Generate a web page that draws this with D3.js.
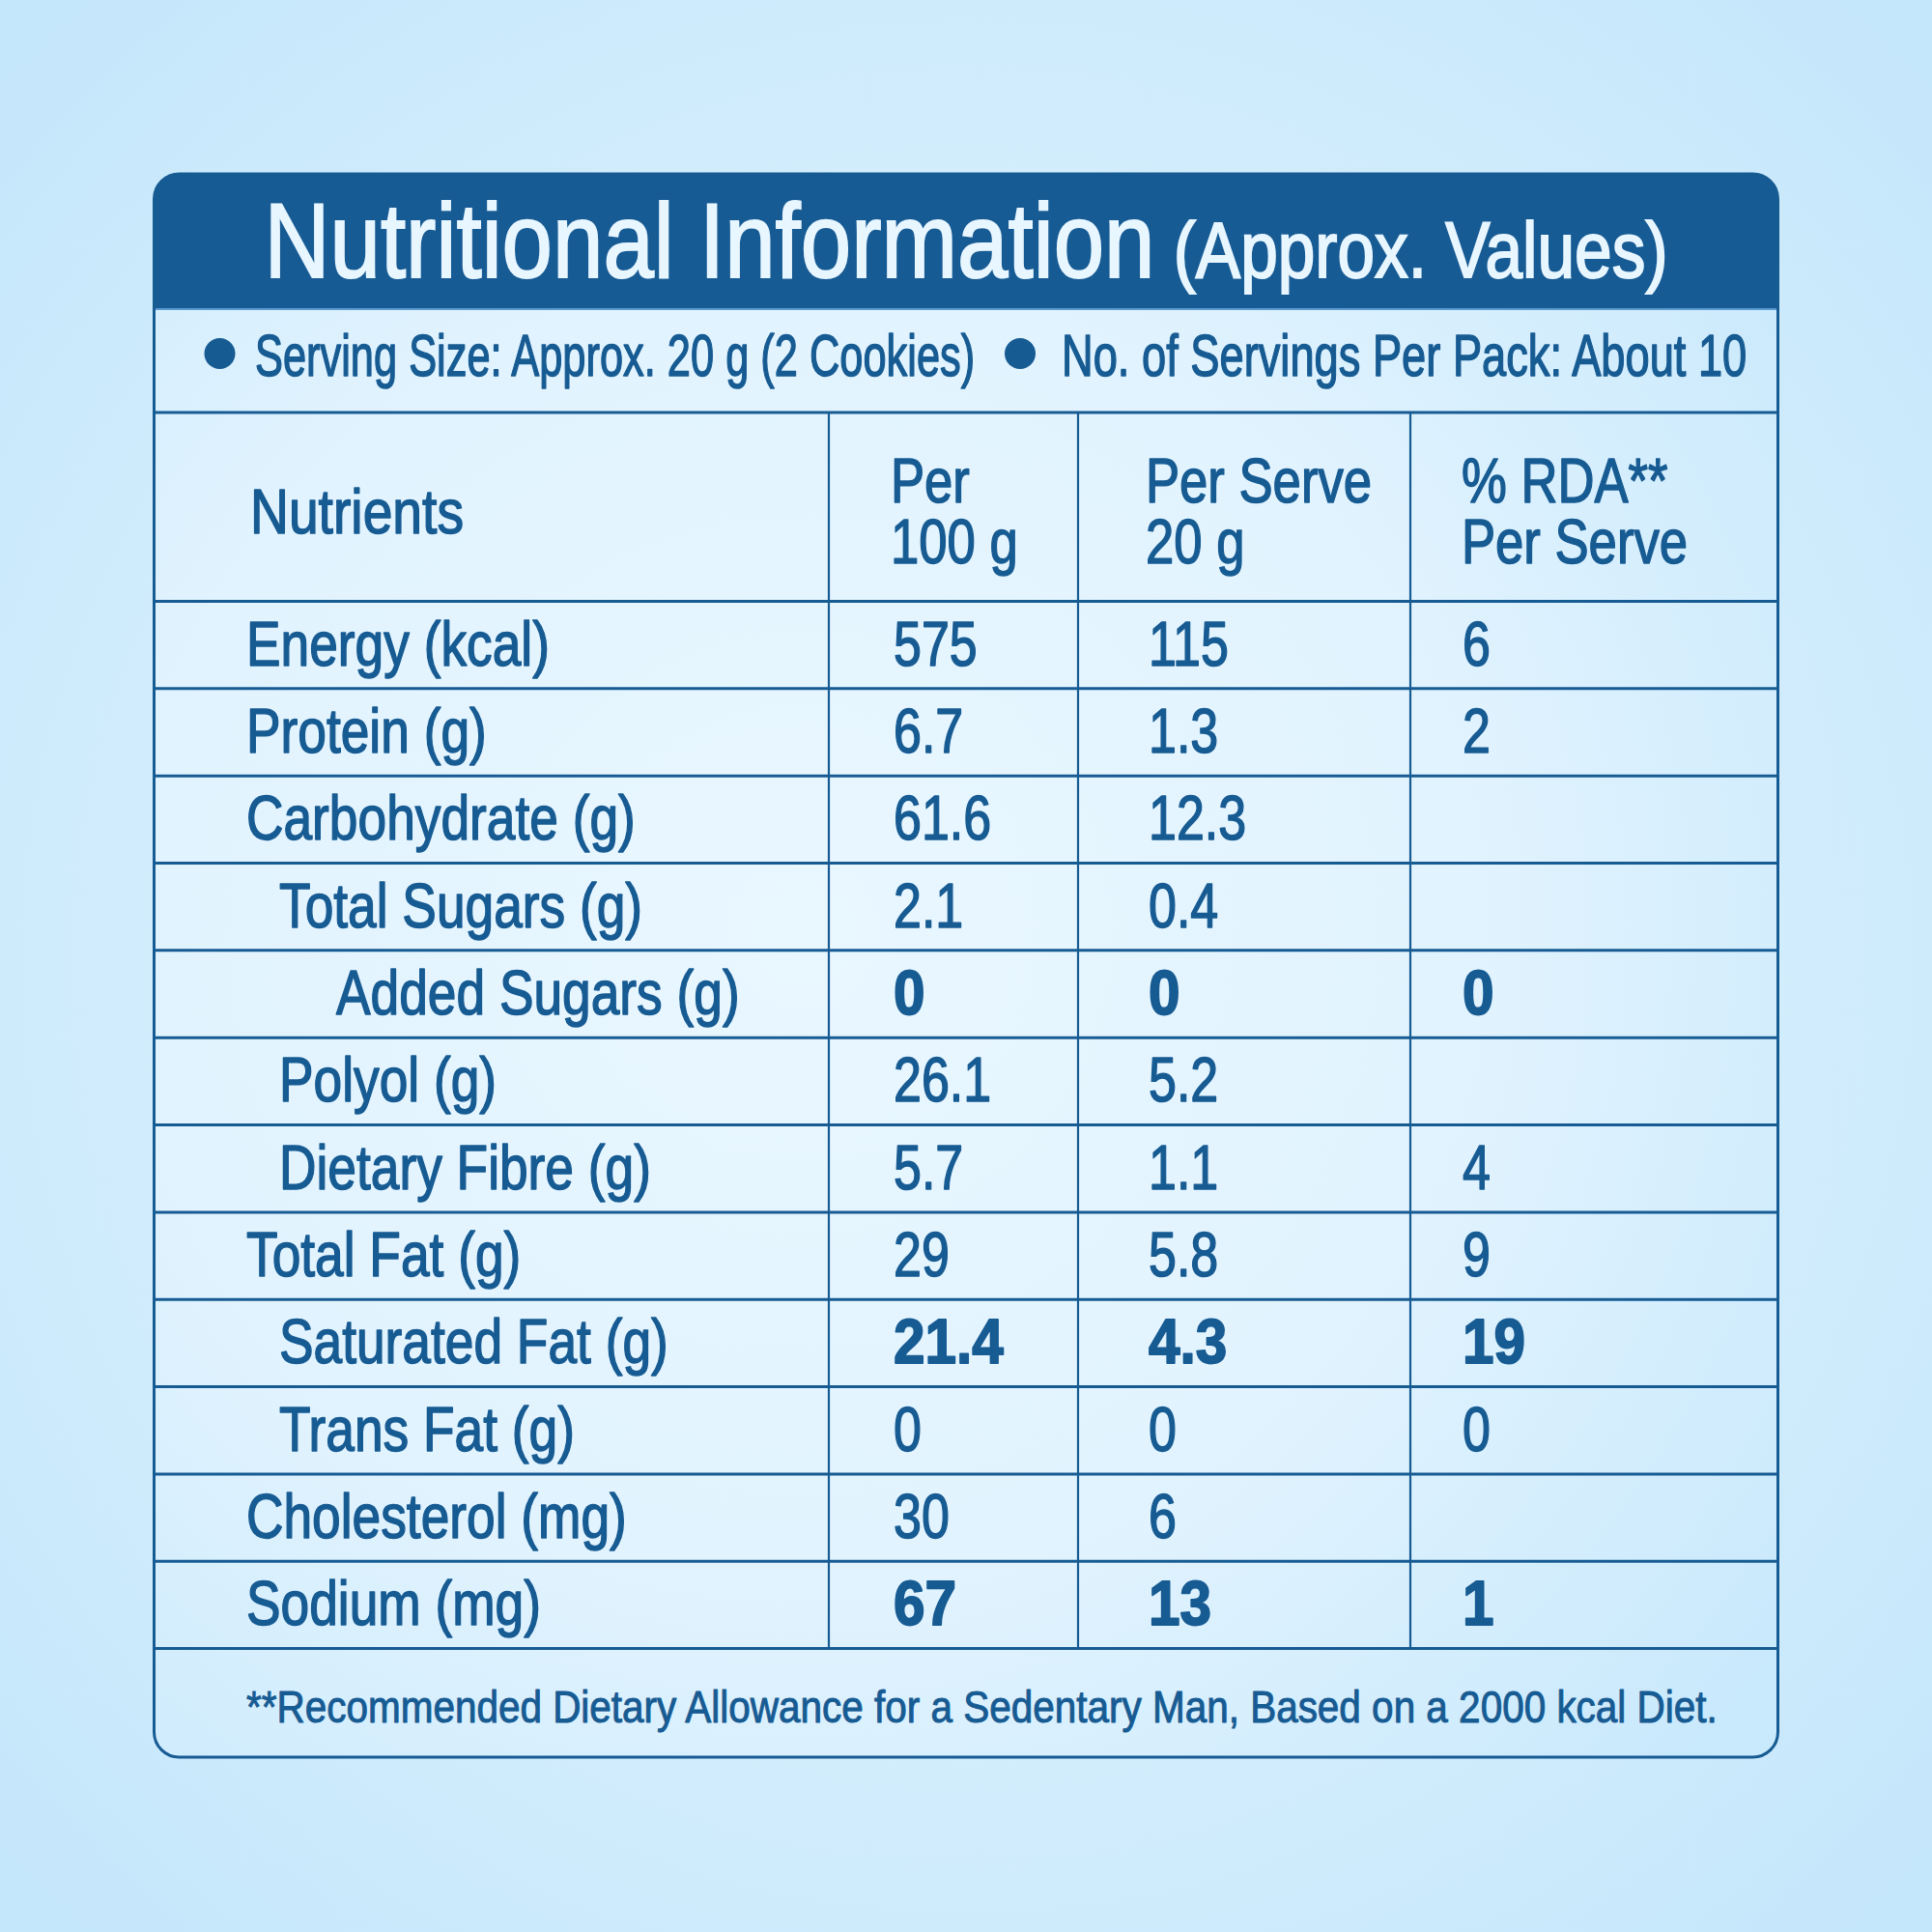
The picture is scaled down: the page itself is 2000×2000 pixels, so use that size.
<!DOCTYPE html>
<html>
<head>
<meta charset="utf-8">
<script src="https://cdn.jsdelivr.net/npm/d3@7"></script>
<style>
  html, body { margin: 0; padding: 0; background: #c8e8fc; }
  svg { display: block; }
</style>
</head>
<body>
<div id="chart"></div>
<script>
// Table content
const nutrients = [
    "Energy (kcal)", "Protein (g)", "Carbohydrate (g)", "Total Sugars (g)",
    "Added Sugars (g)", "Polyol (g)", "Dietary Fibre (g)", "Total Fat (g)",
    "Saturated Fat (g)", "Trans Fat (g)", "Cholesterol (mg)", "Sodium (mg)"
];
const indentLevel = [0, 0, 0, 1, 2, 1, 1, 0, 1, 1, 0, 0];
const per100g    = ["575", "6.7", "61.6", "2.1", "0", "26.1", "5.7", "29", "21.4", "0", "30", "67"];
const perServe   = ["115", "1.3", "12.3", "0.4", "0", "5.2", "1.1", "5.8", "4.3", "0", "6", "13"];
const rdaServe   = ["6", "2", "", "", "0", "", "4", "9", "19", "0", "", "1"];
const boldRows   = ["Added Sugars (g)", "Saturated Fat (g)", "Sodium (mg)"];
const columnHeads = [["Per", "100 g"], ["Per Serve", "20 g"], ["% RDA**", "Per Serve"]];
const titleMain = "Nutritional Information";
const titleSub = "(Approx. Values)";
const servingNotes = ["Serving Size: Approx. 20 g (2 Cookies)", "No. of Servings Per Pack: About 10"];
const footnote = "**Recommended Dietary Allowance for a Sedentary Man, Based on a 2000 kcal Diet.";

// 1. Layout
const W = 2000, H = 2000;
const box = { x0: 159.5, x1: 1840.5, y0: 180, y1: 1819, r: 26 };
const bandBottom = 320, servingBottom = 427, headBottom = 622.5, tableBottom = 1706.6;
const colEdges = [858, 1116, 1460];
const valueX = [925, 1189, 1514];
const dark = "#175b93";
const FONT = "'Liberation Sans', Arial, sans-serif";

const svg = d3.select("#chart").append("svg")
    .attr("width", W).attr("height", H)
    .attr("viewBox", [0, 0, W, H]);

const defs = svg.append("defs");
const bg = defs.append("radialGradient").attr("id", "bgGrad")
    .attr("cx", "50%").attr("cy", "50%").attr("r", "72%");
bg.append("stop").attr("offset", "0%").attr("stop-color", "#e6f6fe");
bg.append("stop").attr("offset", "100%").attr("stop-color", "#c3e6fb");

const tg = defs.append("radialGradient").attr("id", "tableGrad")
    .attr("cx", "40%").attr("cy", "48%").attr("r", "75%");
tg.append("stop").attr("offset", "0%").attr("stop-color", "#e9f7ff");
tg.append("stop").attr("offset", "55%").attr("stop-color", "#e1f3fe");
tg.append("stop").attr("offset", "100%").attr("stop-color", "#c9e9fc");

svg.append("rect").attr("width", W).attr("height", H).attr("fill", "url(#bgGrad)");

// 2. Box + header band
svg.append("rect")
    .attr("x", box.x0).attr("y", box.y0)
    .attr("width", box.x1 - box.x0).attr("height", box.y1 - box.y0)
    .attr("rx", box.r)
    .attr("fill", "url(#tableGrad)");

const bandPath = d3.path();
bandPath.moveTo(box.x0, bandBottom);
bandPath.lineTo(box.x0, box.y0 + box.r);
bandPath.arcTo(box.x0, box.y0, box.x0 + box.r, box.y0, box.r);
bandPath.lineTo(box.x1 - box.r, box.y0);
bandPath.arcTo(box.x1, box.y0, box.x1, box.y0 + box.r, box.r);
bandPath.lineTo(box.x1, bandBottom);
bandPath.closePath();
svg.append("path").attr("d", bandPath.toString()).attr("fill", "#175b94");
svg.append("line")
    .attr("x1", box.x0).attr("x2", box.x1).attr("y1", bandBottom).attr("y2", bandBottom)
    .attr("stroke", "#5b9bcf").attr("stroke-width", 2);

// helper: condensed text via horizontal scale
function addText(g, str, x, y, opts) {
    const o = Object.assign({ size: 65, k: 0.82, weight: 400, fill: dark, anchor: "start", sw: 1.5 }, opts);
    return g.append("text")
        .attr("transform", `translate(${x},${y}) scale(${o.k},1)`)
        .attr("font-family", FONT)
        .attr("font-size", o.size)
        .attr("font-weight", o.weight)
        .attr("text-anchor", o.anchor)
        .attr("fill", o.fill)
        .attr("stroke", o.fill)
        .attr("stroke-width", o.sw)
        .attr("stroke-linejoin", "round")
        .text(str);
}

// 3. Title
const title = svg.append("text")
    .attr("transform", `translate(${(box.x0 + box.x1) / 2},287) scale(0.857,1)`)
    .attr("font-family", FONT)
    .attr("text-anchor", "middle")
    .attr("fill", "#e8f6ff")
    .attr("stroke", "#e8f6ff")
    .attr("stroke-width", 2);
title.append("tspan").attr("font-size", 110).text(titleMain);
title.append("tspan").attr("font-size", 81).text(" " + titleSub);

// 4. Serving row
const serving = svg.append("g");
const bulletX = [227.5, 1056];
const noteX = [264, 1099];
const noteK = [0.70, 0.73];
servingNotes.forEach((t, i) => {
    serving.append("circle").attr("cx", bulletX[i]).attr("cy", 366).attr("r", 16).attr("fill", dark);
    addText(serving, t, noteX[i], 389, { size: 62, k: noteK[i] });
});

// 5. Grid
const y = d3.scaleBand().domain(nutrients).range([headBottom, tableBottom]);
const grid = svg.append("g").attr("stroke", dark);

grid.append("line")
    .attr("x1", box.x0).attr("x2", box.x1).attr("y1", servingBottom).attr("y2", servingBottom)
    .attr("stroke-width", 3);
grid.selectAll("line.row")
    .data([headBottom, ...nutrients.map(d => y(d) + y.bandwidth())])
    .join("line").attr("class", "row")
    .attr("x1", box.x0).attr("x2", box.x1)
    .attr("y1", d => d).attr("y2", d => d)
    .attr("stroke-width", 3);
grid.selectAll("line.col")
    .data(colEdges)
    .join("line").attr("class", "col")
    .attr("x1", d => d).attr("x2", d => d)
    .attr("y1", servingBottom).attr("y2", tableBottom)
    .attr("stroke-width", 2.2);

// outer border on top of everything
svg.append("rect")
    .attr("x", box.x0).attr("y", box.y0)
    .attr("width", box.x1 - box.x0).attr("height", box.y1 - box.y0)
    .attr("rx", box.r)
    .attr("fill", "none").attr("stroke", dark).attr("stroke-width", 3);

// 6. Column headers (two-line headers as one text with tspans)
const head = svg.append("g");
addText(head, "Nutrients", 259, 551.7, { k: 0.85 });
columnHeads.forEach((lines, i) => {
    const hx = [922, 1186, 1513][i];
    const t = addText(head, "", hx, 520, { k: 0.81 });
    lines.forEach((s, j) => t.append("tspan").attr("x", 0).attr("dy", j ? 63 : 0).text(s));
});

// 7. Rows
const indentX = d3.scaleOrdinal().domain([0, 1, 2]).range([255, 289, 348]);
const body = svg.append("g");
nutrients.forEach((n, i) => {
    const by = y(n) + y.bandwidth() / 2 + 21;
    addText(body, n, indentX(indentLevel[i]), by, { k: 0.82 });
    const bold = boldRows.includes(n);
    [per100g[i], perServe[i], rdaServe[i]].forEach((v, c) => {
        if (!v) return;
        addText(body, v, valueX[c], by, bold ? { k: 0.9, weight: 700, sw: 1.8 } : { k: 0.8 });
    });
});

// 8. Footnote
addText(svg, footnote, 255, 1783, { size: 46, k: 0.88, sw: 1.0 });
</script>
</body>
</html>
